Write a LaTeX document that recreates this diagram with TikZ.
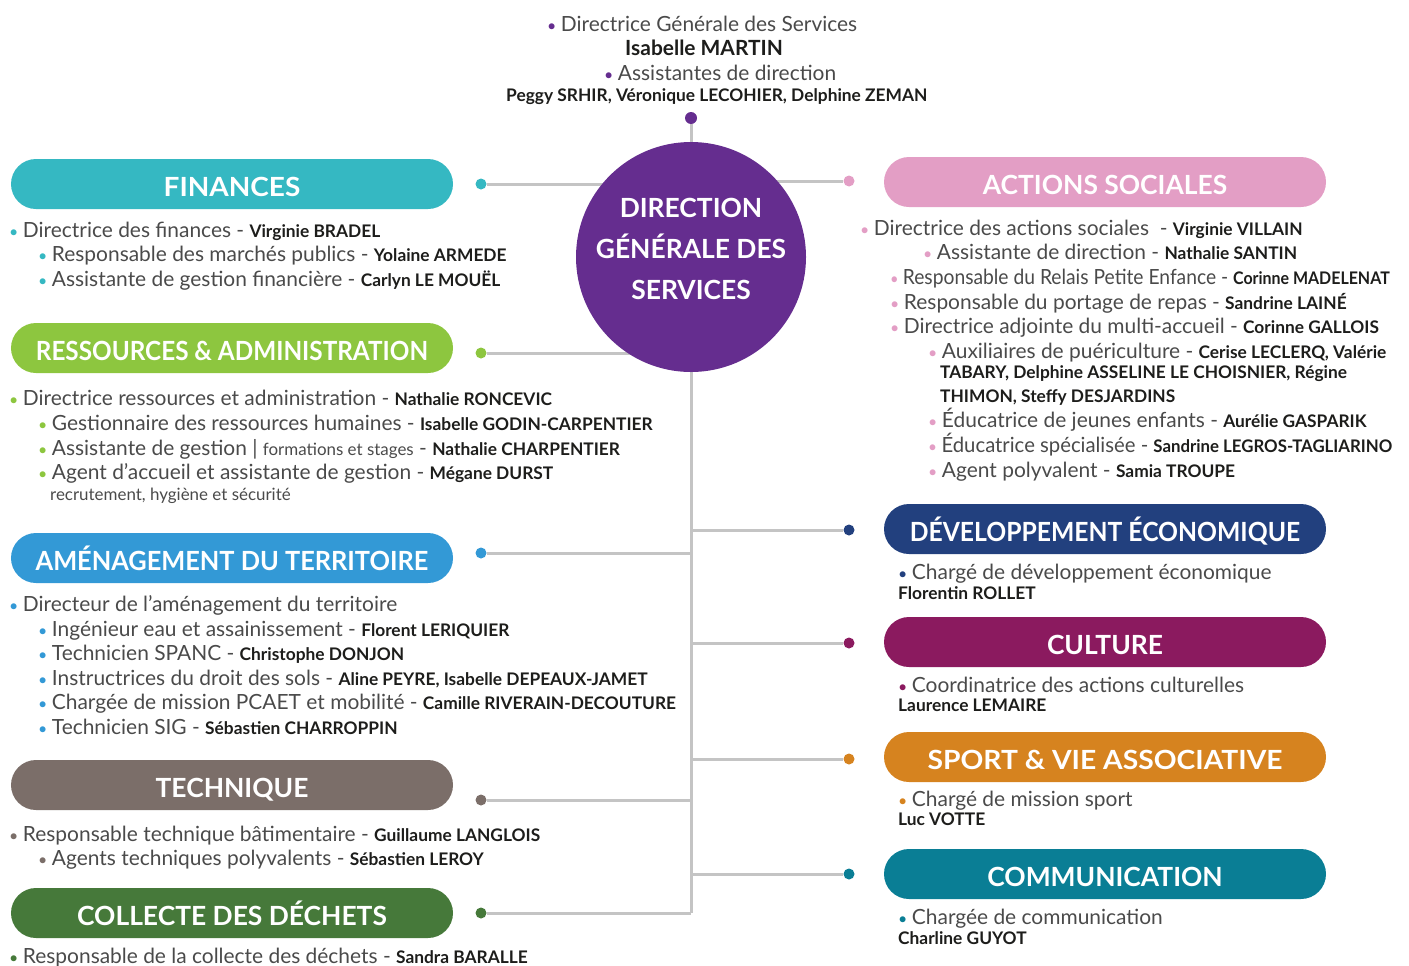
\documentclass[tikz,border=0pt]{standalone}
\usepackage{fontspec}
\usepackage{graphicx}
\setmainfont{Lato}
\usetikzlibrary{backgrounds}

\definecolor{finances}{HTML}{35B8C2}
\definecolor{ressources}{HTML}{8DC63F}
\definecolor{amenag}{HTML}{3399D6}
\definecolor{technique}{HTML}{7B6E69}
\definecolor{collecte}{HTML}{46793A}
\definecolor{sociales}{HTML}{E39EC5}
\definecolor{eco}{HTML}{22407E}
\definecolor{culture}{HTML}{8B1A5F}
\definecolor{sport}{HTML}{D6831F}
\definecolor{comm}{HTML}{0A7E95}
\definecolor{dgs}{HTML}{652D8F}
\definecolor{trait}{HTML}{C4C4C4}
\definecolor{texte}{HTML}{4A4A4A}
\definecolor{noir}{HTML}{1D1D1B}

\newcommand\nom[1]{{\fontsize{17.4}{20}\selectfont\bfseries\color{noir}#1}}
\newcommand\puce[1]{{\color{#1}\fontsize{16}{16}\selectfont•}\hspace{4.5bp}}
\newcommand\petit[1]{{\fontsize{17}{19}\selectfont #1}}

\begin{document}
\begin{tikzpicture}[x=1bp,y=-1bp,
  pill/.style={rounded corners=25bp, minimum width=442bp, minimum height=50bp, inner sep=0pt,
    text height=25bp, text depth=0pt, text=white, font=\fontsize{26.5}{30}\selectfont\bfseries},
  point/.style={circle, inner sep=0pt, minimum size=11bp},
  lien/.style={draw=trait, line width=3bp},
  ligne/.style={anchor=base west, inner sep=0pt, text=texte, font=\fontsize{21}{24}\selectfont}]
\useasboundingbox (0,0) rectangle (1409,965);

% direction generale
\node[circle, fill=dgs, minimum size=230bp] (dgs) at (691,257) {};
\node[align=center, text=white, font=\fontsize{26.5}{41}\selectfont\bfseries] (dgstexte) at (691,249)
  {DIRECTION\\GÉNÉRALE DES\\SERVICES};
\node[point, fill=dgs, minimum size=12bp] (ddg) at (691,118) {};
\coordinate (tronc) at (691,913);
\node[ligne] (dg1) at (547,31) {\puce{dgs}Directrice Générale des Services};
\node[ligne, font=\fontsize{21}{24}\selectfont\bfseries, text=noir] (dg2) at (625,55) {Isabelle MARTIN};
\node[ligne] (dg3) at (604,80) {\puce{dgs}Assistantes de direction};
\node[ligne] (dg4) at (506,101) {\nom{Peggy SRHIR, Véronique LECOHIER, Delphine ZEMAN}};

% poles de gauche
\node[pill, fill=finances] (finances) at (232,184) {\scalebox{1.06}[1]{FINANCES}};
\node[pill, fill=ressources] (ressources) at (232,348) {\scalebox{0.92}[1]{RESSOURCES \& ADMINISTRATION}};
\node[pill, fill=amenag] (amenagement) at (232,558) {\scalebox{0.96}[1]{AMÉNAGEMENT DU TERRITOIRE}};
\node[pill, fill=technique] (technique) at (232,785) {TECHNIQUE};
\node[pill, fill=collecte] (collecte) at (232,913) {COLLECTE DES DÉCHETS};
\node[point, fill=finances] (dfin) at (481,184) {};
\node[point, fill=ressources] (dres) at (481,353) {};
\node[point, fill=amenag] (dame) at (481,553) {};
\node[point, fill=technique] (dtec) at (481,800) {};
\node[point, fill=collecte] (dcol) at (481,913) {};

% poles de droite
\node[pill, fill=sociales] (sociales) at (1105,182) {ACTIONS SOCIALES};
\node[pill, fill=eco] (eco) at (1105,529) {\scalebox{0.935}[1]{DÉVELOPPEMENT ÉCONOMIQUE}};
\node[pill, fill=culture] (culture) at (1105,642) {CULTURE};
\node[pill, fill=sport] (sport) at (1105,757) {\scalebox{1.07}[1]{SPORT \& VIE ASSOCIATIVE}};
\node[pill, fill=comm] (comm) at (1105,874) {COMMUNICATION};
\node[point, fill=sociales] (dsoc) at (849,181) {};
\node[point, fill=eco] (deco) at (849,530) {};
\node[point, fill=culture] (dcul) at (849,643) {};
\node[point, fill=sport] (dspo) at (849,759) {};
\node[point, fill=comm] (dcom) at (849,874) {};

% finances
\node[ligne] (fin1) at (9,237) {\puce{finances}Directrice des finances - \nom{Virginie BRADEL}};
\node[ligne] (fin2) at (38,261) {\puce{finances}Responsable des marchés publics - \nom{Yolaine ARMEDE}};
\node[ligne] (fin3) at (38,286) {\puce{finances}Assistante de gestion financière - \nom{Carlyn LE MOUËL}};

% ressources
\node[ligne] (res1) at (9,405) {\puce{ressources}Directrice ressources et administration - \nom{Nathalie RONCEVIC}};
\node[ligne] (res2) at (38,430) {\puce{ressources}Gestionnaire des ressources humaines - \nom{Isabelle GODIN-CARPENTIER}};
\node[ligne] (res3) at (38,455) {\puce{ressources}Assistante de gestion | \petit{formations et stages} - \nom{Nathalie CHARPENTIER}};
\node[ligne] (res4) at (38,479) {\puce{ressources}Agent d’accueil et assistante de gestion - \nom{Mégane DURST}};
\node[ligne] (res5) at (50,500) {\petit{recrutement, hygiène et sécurité}};

% amenagement
\node[ligne] (ame1) at (9,611) {\puce{amenag}Directeur de l’aménagement du territoire};
\node[ligne] (ame2) at (38,636) {\puce{amenag}Ingénieur eau et assainissement - \nom{Florent LERIQUIER}};
\node[ligne] (ame3) at (38,660) {\puce{amenag}Technicien SPANC - \nom{Christophe DONJON}};
\node[ligne] (ame4) at (38,685) {\puce{amenag}Instructrices du droit des sols - \nom{Aline PEYRE, Isabelle DEPEAUX-JAMET}};
\node[ligne] (ame5) at (38,709) {\puce{amenag}Chargée de mission PCAET et mobilité - \nom{Camille RIVERAIN-DECOUTURE}};
\node[ligne] (ame6) at (38,734) {\puce{amenag}Technicien SIG - \nom{Sébastien CHARROPPIN}};

% technique
\node[ligne] (tec1) at (9,841) {\puce{technique}Responsable technique bâtimentaire - \nom{Guillaume LANGLOIS}};
\node[ligne] (tec2) at (38,865) {\puce{technique}Agents techniques polyvalents - \nom{Sébastien LEROY}};

% collecte
\node[ligne] (col1) at (9,963) {\puce{collecte}Responsable de la collecte des déchets - \nom{Sandra BARALLE}};

% actions sociales
\node[ligne] (soc1) at (860,235) {\puce{sociales}Directrice des actions sociales\ \ - \nom{Virginie VILLAIN}};
\node[ligne] (soc2) at (923,259) {\puce{sociales}Assistante de direction - \nom{Nathalie SANTIN}};
\node[ligne] (soc3) at (890,284) {\scalebox{0.92}[1]{\puce{sociales}Responsable du Relais Petite Enfance - \nom{Corinne MADELENAT}}};
\node[ligne] (soc4) at (890,309) {\puce{sociales}Responsable du portage de repas - \nom{Sandrine LAINÉ}};
\node[ligne] (soc5) at (890,333) {\puce{sociales}Directrice adjointe du multi-accueil - \nom{Corinne GALLOIS}};
\node[ligne] (soc6) at (928,358) {\puce{sociales}Auxiliaires de puériculture - \nom{Cerise LECLERQ, Valérie}};
\node[ligne] (soc7) at (940,378) {\nom{TABARY, Delphine ASSELINE LE CHOISNIER, Régine}};
\node[ligne] (soc8) at (940,402) {\nom{THIMON, Steffy DESJARDINS}};
\node[ligne] (soc9) at (928,427) {\puce{sociales}Éducatrice de jeunes enfants - \nom{Aurélie GASPARIK}};
\node[ligne] (soc10) at (928,452) {\scalebox{0.97}[1]{\puce{sociales}Éducatrice spécialisée - \nom{Sandrine LEGROS-TAGLIARINO}}};
\node[ligne] (soc11) at (928,477) {\puce{sociales}Agent polyvalent - \nom{Samia TROUPE}};

% autres poles
\node[ligne] (eco1) at (898,579) {\puce{eco}Chargé de développement économique};
\node[ligne] (eco2) at (898,599) {\nom{Florentin ROLLET}};
\node[ligne] (cul1) at (898,692) {\puce{culture}Coordinatrice des actions culturelles};
\node[ligne] (cul2) at (898,711) {\nom{Laurence LEMAIRE}};
\node[ligne] (spo1) at (898,806) {\puce{sport}Chargé de mission sport};
\node[ligne] (spo2) at (898,825) {\nom{Luc VOTTE}};
\node[ligne] (com1) at (898,924) {\puce{comm}Chargée de communication};
\node[ligne] (com2) at (898,944) {\nom{Charline GUYOT}};

\begin{pgfonlayer}{background}
\draw[lien] (ddg) -- (tronc);
\draw[lien] (dfin) -- (dfin -| dgs);
\draw[lien] (dres) -- (dres -| dgs);
\draw[lien] (dame) -- (dame -| dgs);
\draw[lien] (dtec) -- (dtec -| dgs);
\draw[lien] (dcol) -- (tronc);
\draw[lien] (dsoc) -- (dsoc -| dgs);
\draw[lien] (deco) -- (deco -| dgs);
\draw[lien] (dcul) -- (dcul -| dgs);
\draw[lien] (dspo) -- (dspo -| dgs);
\draw[lien] (dcom) -- (dcom -| dgs);
\end{pgfonlayer}
\end{tikzpicture}
\end{document}
